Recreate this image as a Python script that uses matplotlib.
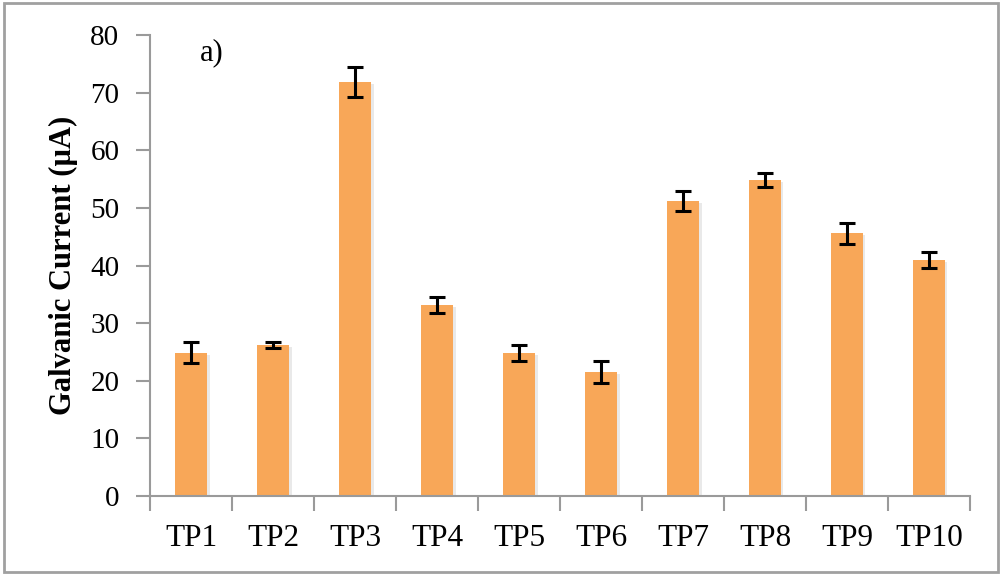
import numpy as np
import matplotlib
matplotlib.use("Agg")
import matplotlib.pyplot as plt
import matplotlib.patheffects as pe
from matplotlib.patches import Rectangle

# Mean galvanic current per test point, with error bar half-widths
labels = ["TP1", "TP2", "TP3", "TP4", "TP5", "TP6", "TP7", "TP8", "TP9", "TP10"]
current = [24.9, 26.2, 71.9, 33.1, 24.8, 21.5, 51.2, 54.9, 45.6, 41.0]
err = [1.85, 0.55, 2.6, 1.4, 1.45, 1.85, 1.7, 1.2, 1.8, 1.4]

plt.rcParams["font.family"] = ["Liberation Serif", "DejaVu Serif"]
axis_grey = "#9a9a9a"

fig = plt.figure(figsize=(10.03, 5.75), dpi=100)
ax = fig.add_axes([0.1496, 0.1374, 0.8175, 0.8017])

x = np.arange(len(labels))
bars = ax.bar(x, current, width=0.4, color="#F8A758", zorder=2)
for b in bars:
    b.set_path_effects([pe.SimplePatchShadow(offset=(1.5, -1.5), shadow_rgbFace="#888888", alpha=0.18),
                        pe.Normal()])
ax.errorbar(x, current, yerr=err, fmt="none", ecolor="black", elinewidth=2.2,
            capsize=6, capthick=2.2, zorder=3)

ax.set_xlim(-0.5, len(labels) - 0.5)
ax.set_ylim(0, 80)
ax.set_yticks(np.arange(0, 81, 10))

# category labels centred, tick marks on the boundaries between categories
ax.set_xticks(x)
ax.set_xticklabels(labels)
ax.set_xticks(np.arange(-0.5, len(labels)), minor=True)
ax.tick_params(axis="x", which="major", length=0, pad=20, labelsize=22.5)
ax.tick_params(axis="x", which="minor", length=11, width=1.5, color=axis_grey, direction="out")
ax.tick_params(axis="y", length=10, width=1.5, color=axis_grey, pad=12, labelsize=21)

for side in ["top", "right"]:
    ax.spines[side].set_visible(False)
for side in ["left", "bottom"]:
    ax.spines[side].set_color(axis_grey)
    ax.spines[side].set_linewidth(1.5)

ax.set_ylabel("Galvanic Current (µA)", fontsize=22, fontweight="bold")
ax.yaxis.set_label_coords(-0.088, 0.5)

ax.text(0.061, 0.961, "a)", transform=ax.transAxes, fontsize=22, va="center", ha="left")

# outer chart frame
fig.patches.append(Rectangle((0.004, 0.006), 0.991, 0.988, transform=fig.transFigure,
                             fill=False, edgecolor="#a0a0a0", linewidth=2))

fig.savefig("out.png", dpi=100)
